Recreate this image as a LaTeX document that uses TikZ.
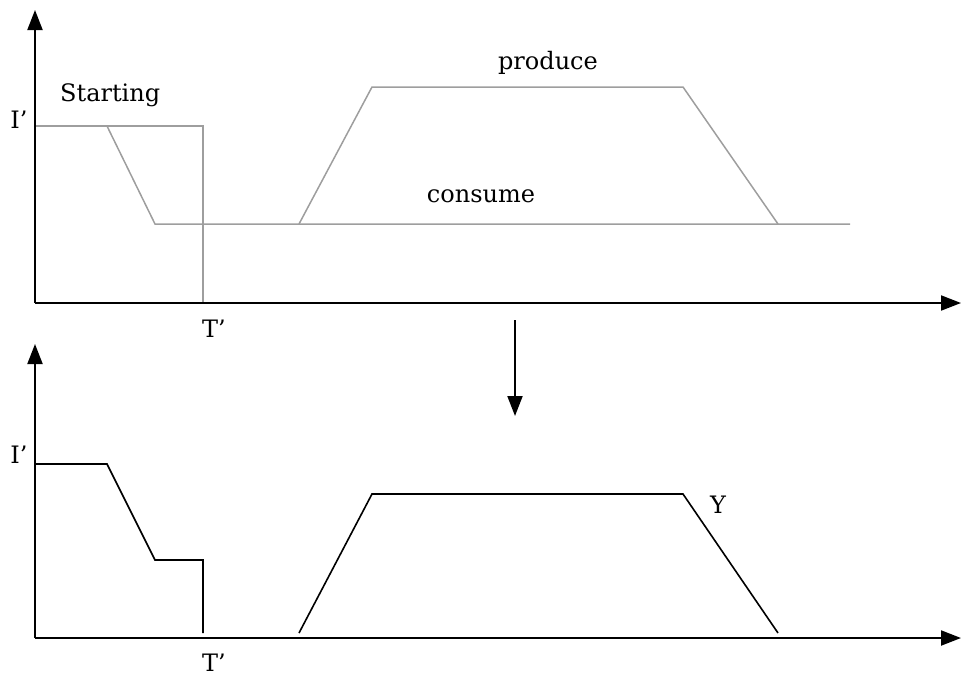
\documentclass[tikz,border=0pt]{standalone}
\usepackage{fontspec}
\setmainfont{DejaVu Serif}
\usetikzlibrary{arrows.meta}
\begin{document}
\begin{tikzpicture}[x=1pt,y=-1pt,
  axis/.style={line width=2pt,black,-{Triangle[length=20pt,width=15pt]}},
  grayline/.style={line width=1.5pt,color=black!38,line join=miter},
  blackline/.style={line width=1.6pt,black,line join=miter},
  lbl/.style={anchor=base,inner sep=0pt,font=\fontsize{24}{28}\selectfont}]
\useasboundingbox (0,0) rectangle (961,675);
% ---------- top chart ----------
\coordinate (o1) at (35,303);
\coordinate (y1) at (35,10);
\coordinate (x1) at (961,303);
\coordinate (a1) at (35,126);
\coordinate (a2) at (203,126);
\coordinate (a3) at (203,303);
\coordinate (c1) at (107,126);
\coordinate (c2) at (155,224);
\coordinate (c3) at (850,224);
\coordinate (p1) at (299,224);
\coordinate (p2) at (372,87);
\coordinate (p3) at (683,87);
\coordinate (p4) at (778,224);
\draw[grayline] (a1) -- (a2) -- (a3);
\draw[grayline] (c1) -- (c2) -- (c3);
\draw[grayline] (p1) -- (p2) -- (p3) -- (p4);
\draw[axis] (o1) -- (y1);
\draw[axis] (o1) -- (x1);
\node[lbl] (i1) at (19,128) {I’};
\node[lbl,anchor=base west] (st) at (60,101) {Starting};
\node[lbl] (pr) at (548,69) {produce};
\node[lbl] (co) at (481,202) {consume};
\node[lbl] (t1) at (214,337) {T’};
% ---------- transition arrow ----------
\coordinate (d1) at (515,320);
\coordinate (d2) at (515,416);
\draw[axis] (d1) -- (d2);
% ---------- bottom chart ----------
\coordinate (o2) at (35,638);
\coordinate (y2) at (35,344);
\coordinate (x2) at (961,638);
\coordinate (b1) at (35,464);
\coordinate (b2) at (107,464);
\coordinate (b3) at (155,560);
\coordinate (b4) at (203,560);
\coordinate (b5) at (203,633);
\coordinate (q1) at (299,633);
\coordinate (q2) at (372,494);
\coordinate (q3) at (683,494);
\coordinate (q4) at (778,633);
\draw[blackline] (b1) -- (b2) -- (b3) -- (b4) -- (b5);
\draw[blackline] (q1) -- (q2) -- (q3) -- (q4);
\draw[axis] (o2) -- (y2);
\draw[axis] (o2) -- (x2);
\node[lbl] (i2) at (19,463) {I’};
\node[lbl] (yy) at (718,513) {Y};
\node[lbl] (t2) at (214,671) {T’};
\end{tikzpicture}
\end{document}
